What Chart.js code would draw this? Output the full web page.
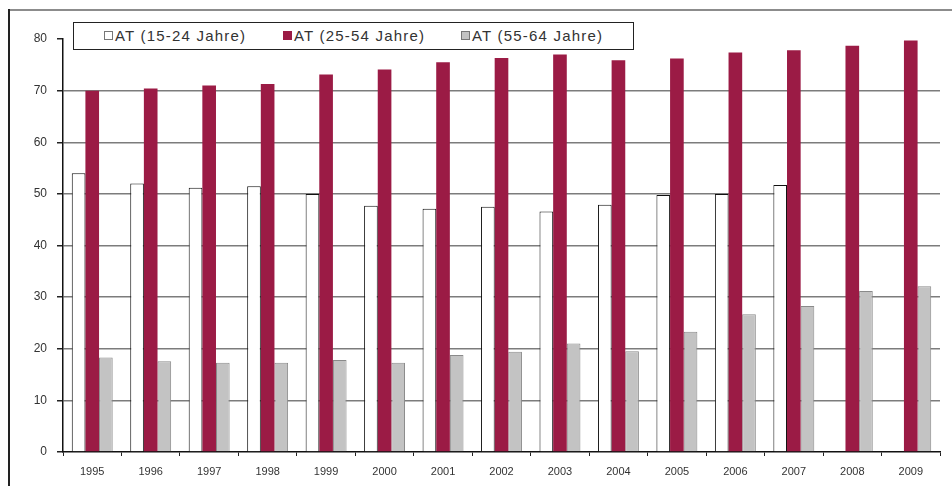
<!DOCTYPE html>
<html lang="de">
<head>
<meta charset="utf-8">
<title>Erwerbstätigenquote AT</title>
<script src="https://cdn.jsdelivr.net/npm/chart.js@4.4.1/dist/chart.umd.min.js"></script>
<style>
    html, body { margin: 0; padding: 0; background: #fff; }
    #wrap { position: relative; width: 952px; height: 486px; overflow: hidden; }
    #frameTop { position: absolute; left: 8px; top: 9px; width: 944px; height: 2px; background: #8c8c8c; }
    #frameLeft { position: absolute; left: 8px; top: 9px; width: 2px; height: 477px; background: #222; }
    #legend {
        position: absolute; left: 73px; top: 22px; width: 559px; height: 26px;
        border: 1.5px solid #222; background: #fff;
        font-family: "Liberation Sans", Arial, sans-serif; font-size: 15px; color: #333;
    }
    .item { position: absolute; top: 4px; letter-spacing: 1.2px; white-space: nowrap; }
    .box { display: inline-block; width: 7px; height: 7px; margin-right: 2px; vertical-align: 1px; border: 1px solid #777; }
</style>
</head>
<body>
<div id="wrap">
    <canvas id="employmentChart" width="952" height="486"></canvas>
    <div id="frameTop"></div>
    <div id="frameLeft"></div>
    <div id="legend"></div>
</div>
<script>
const years = ['1995', '1996', '1997', '1998', '1999', '2000', '2001', '2002',
               '2003', '2004', '2005', '2006', '2007', '2008', '2009'];
const seriesNames = ['AT (15-24 Jahre)', 'AT (25-54 Jahre)', 'AT (55-64 Jahre)'];
const age15to24 = [54.0, 52.0, 51.2, 51.5, 50.0, 47.7, 47.1, 47.5, 46.6, 47.9, 49.8, 50.0, 51.7, null, null];
const age25to54 = [70.0, 70.4, 71.0, 71.3, 73.1, 74.1, 75.5, 76.3, 77.0, 75.9, 76.2, 77.4, 77.8, 78.7, 79.7];
const age55to64 = [18.3, 17.6, 17.3, 17.3, 17.8, 17.3, 18.8, 19.4, 21.0, 19.5, 23.3, 26.7, 28.3, 31.2, 32.1];
const yTicks = [0, 10, 20, 30, 40, 50, 60, 70, 80];

const fills = ['#ffffff', '#9b1b45', '#c3c3c3'];
const edges = ['#111111', '#9b1b45', '#8a8a8a'];
const legendLeft = [30, 209, 387];

document.addEventListener('DOMContentLoaded', function() {
    buildLegend();

    const ctx = document.getElementById('employmentChart');
    new Chart(ctx, {
        type: 'bar',
        data: {
            labels: years,
            datasets: [age15to24, age25to54, age55to64].map((values, i) => ({
                label: seriesNames[i],
                data: values,
                backgroundColor: fills[i],
                borderColor: edges[i],
                borderWidth: i === 1 ? 0 : 1,
                categoryPercentage: 0.7,
                barPercentage: 1.0
            }))
        },
        options: {
            responsive: false,
            animation: false,
            layout: {
                autoPadding: false,
                padding: { left: 0, right: 12, top: 39, bottom: 0 }
            },
            plugins: {
                legend: { display: false },
                tooltip: { enabled: false }
            },
            scales: {
                x: {
                    grid: {
                        offset: true,
                        drawOnChartArea: false,
                        tickLength: 4,
                        tickColor: '#222'
                    },
                    border: { color: '#111', width: 1.5 },
                    ticks: {
                        padding: 9,
                        color: '#333',
                        font: { family: 'Liberation Sans', size: 11 }
                    },
                    afterFit: function(scale) { scale.height = 34; }
                },
                y: {
                    min: 0,
                    max: 80,
                    afterBuildTicks: function(scale) {
                        scale.ticks = yTicks.map(v => ({ value: v }));
                    },
                    grid: {
                        // no line at 0 (axis) or 80 (under the legend)
                        color: c => (c.tick && (c.tick.value === 80 || c.tick.value === 0)) ? 'rgba(0,0,0,0)' : '#7c7c7c',
                        lineWidth: 1.5,
                        tickLength: 6,
                        tickColor: '#222',
                        tickWidth: 1.5
                    },
                    border: { color: '#111', width: 1.5 },
                    ticks: {
                        padding: 10,
                        color: '#333',
                        font: { family: 'Liberation Sans', size: 12 }
                    },
                    afterFit: function(scale) { scale.width = 63; }
                }
            }
        }
    });
});

function buildLegend() {
    const legend = document.getElementById('legend');
    seriesNames.forEach((name, i) => {
        const item = document.createElement('span');
        item.className = 'item';
        item.style.left = legendLeft[i] + 'px';
        const box = document.createElement('span');
        box.className = 'box';
        box.style.background = fills[i];
        box.style.borderColor = i === 1 ? fills[i] : '#777';
        item.appendChild(box);
        item.appendChild(document.createTextNode(name));
        legend.appendChild(item);
    });
}
</script>
</body>
</html>
